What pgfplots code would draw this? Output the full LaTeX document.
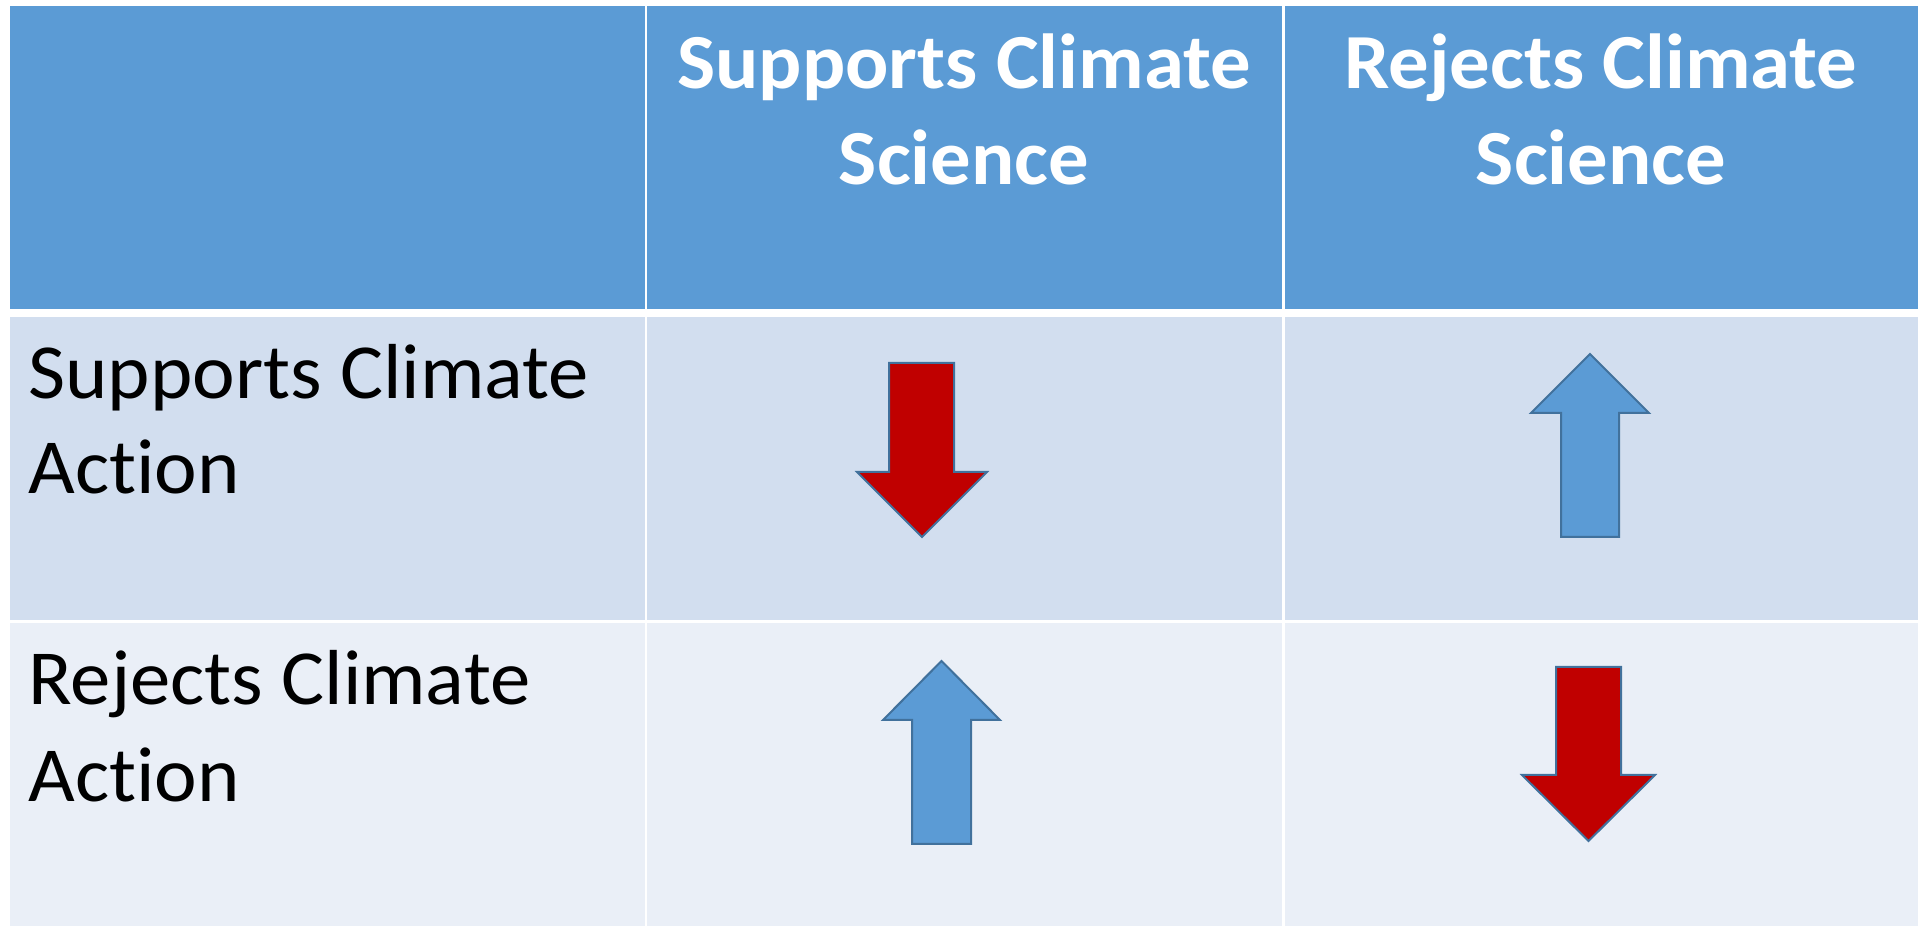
\documentclass[border=0pt]{standalone}
\usepackage{pgfplots}
\pgfplotsset{compat=1.18}
\usepackage{fontspec}
\setmainfont{Carlito}[Ligatures=NoCommon, FakeStretch=1.035]
\definecolor{hdr}{HTML}{5B9BD5}
\definecolor{rowA}{HTML}{D2DEEF}
\definecolor{rowB}{HTML}{EAEFF7}
\definecolor{redA}{HTML}{C00000}
\definecolor{edge}{HTML}{41719C}
\begin{document}
\begin{tikzpicture}
\begin{axis}[scale only axis, width=959pt, height=464.5pt,
  xmin=0, xmax=1918, ymin=0, ymax=929, y dir=reverse, hide axis, clip=false]
% background
\addplot[fill=white, draw=none] coordinates {(0,0) (1918,0) (1918,929) (0,929)} -- cycle;
% header row
\addplot[fill=hdr, draw=none] coordinates {(9.8,6) (644.6,6) (644.6,309.3) (9.8,309.3)} -- cycle;
\addplot[fill=hdr, draw=none] coordinates {(647.2,6) (1282,6) (1282,309.3) (647.2,309.3)} -- cycle;
\addplot[fill=hdr, draw=none] coordinates {(1284.6,6) (1918,6) (1918,309.3) (1284.6,309.3)} -- cycle;
% row 1
\addplot[fill=rowA, draw=none] coordinates {(9.8,316.8) (644.6,316.8) (644.6,620) (9.8,620)} -- cycle;
\addplot[fill=rowA, draw=none] coordinates {(647.2,316.8) (1282,316.8) (1282,620) (647.2,620)} -- cycle;
\addplot[fill=rowA, draw=none] coordinates {(1284.6,316.8) (1918,316.8) (1918,620) (1284.6,620)} -- cycle;
% row 2
\addplot[fill=rowB, draw=none] coordinates {(9.8,622.6) (644.6,622.6) (644.6,926) (9.8,926)} -- cycle;
\addplot[fill=rowB, draw=none] coordinates {(647.2,622.6) (1282,622.6) (1282,926) (647.2,926)} -- cycle;
\addplot[fill=rowB, draw=none] coordinates {(1284.6,622.6) (1918,622.6) (1918,926) (1284.6,926)} -- cycle;
% arrows
\addplot[fill=redA, draw=edge, line width=1pt, line join=miter] coordinates {(889,363) (954,363) (954,472) (987,472) (922,537) (857,472) (889,472)} -- cycle;
\addplot[fill=hdr, draw=edge, line width=1pt, line join=miter] coordinates {(1561,537) (1619,537) (1619,413) (1649,413) (1590,354) (1531,413) (1561,413)} -- cycle;
\addplot[fill=hdr, draw=edge, line width=1pt, line join=miter] coordinates {(912,844) (971,844) (971,720) (1000,720) (941.5,661) (883,720) (912,720)} -- cycle;
\addplot[fill=redA, draw=edge, line width=1pt, line join=miter] coordinates {(1556,667) (1621,667) (1621,775) (1655,775) (1588.5,841) (1522,775) (1556,775)} -- cycle;
% header text
\node[anchor=base, text=white, font=\fontsize{39}{47.5}\selectfont\bfseries, inner sep=0pt] at (axis cs:964,89) {Supports Climate};
\node[anchor=base, text=white, font=\fontsize{39}{47.5}\selectfont\bfseries, inner sep=0pt] at (axis cs:964,185) {Science};
\node[anchor=base, text=white, font=\fontsize{39}{47.5}\selectfont\bfseries, inner sep=0pt] at (axis cs:1601,89) {Rejects Climate};
\node[anchor=base, text=white, font=\fontsize{39}{47.5}\selectfont\bfseries, inner sep=0pt] at (axis cs:1601,185) {Science};
% row labels
\node[anchor=base west, text=black, font=\fontsize{39}{47.5}\selectfont, inner sep=0pt] at (axis cs:28,399) {Supports Climate};
\node[anchor=base west, text=black, font=\fontsize{39}{47.5}\selectfont, inner sep=0pt] at (axis cs:28,494) {Action};
\node[anchor=base west, text=black, font=\fontsize{39}{47.5}\selectfont, inner sep=0pt] at (axis cs:28,705) {Rejects Climate};
\node[anchor=base west, text=black, font=\fontsize{39}{47.5}\selectfont, inner sep=0pt] at (axis cs:28,802) {Action};
\end{axis}
\end{tikzpicture}
\end{document}
